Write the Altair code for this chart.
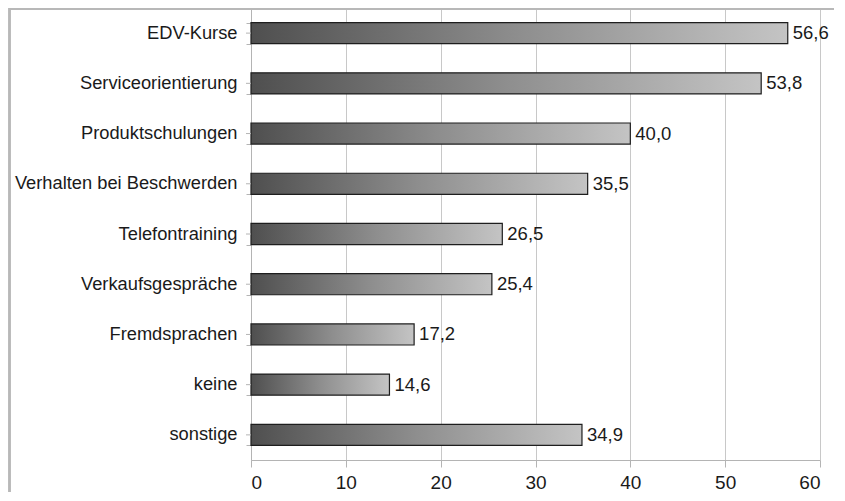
import altair as alt
import pandas as pd

categories = [
    "EDV-Kurse",
    "Serviceorientierung",
    "Produktschulungen",
    "Verhalten bei Beschwerden",
    "Telefontraining",
    "Verkaufsgespräche",
    "Fremdsprachen",
    "keine",
    "sonstige",
]
values = [56.6, 53.8, 40.0, 35.5, 26.5, 25.4, 17.2, 14.6, 34.9]
x_ticks = [0, 10, 20, 30, 40, 50, 60]

labels = [f"{v:.1f}".replace(".", ",") for v in values]
df = pd.DataFrame({"cat": categories, "val": values, "lab": labels})

W, H = 569, 452
FONT = "Liberation Sans"
AXIS_GRAY = "#b4b4b4"
TEXT = "#1a1a1a"

y_scale = alt.Scale(paddingInner=0.58, paddingOuter=0.29)

y_enc = alt.Y(
    "cat:N",
    sort=categories,
    title=None,
    scale=y_scale,
    axis=alt.Axis(
        tickBand="extent",
        domainColor=AXIS_GRAY,
        tickColor=AXIS_GRAY,
        tickSize=5,
        labelPadding=9,
        labelFontSize=18.3,
        labelFont=FONT,
        labelColor=TEXT,
        labelLimit=400,
        grid=False,
    ),
)
x_enc = alt.X(
    "val:Q",
    title=None,
    scale=alt.Scale(domain=[0, 60], nice=False),
    axis=alt.Axis(
        values=x_ticks,
        grid=True,
        gridColor="#c8c8c8",
        domainColor=AXIS_GRAY,
        tickColor=AXIS_GRAY,
        tickSize=7,
        labelPadding=6,
        labelFontSize=19,
        labelFont=FONT,
        labelColor=TEXT,
    ),
)

grad = alt.Gradient(
    gradient="linear",
    stops=[
        alt.GradientStop(color="#4f4f4f", offset=0),
        alt.GradientStop(color="#8e8e8e", offset=0.5),
        alt.GradientStop(color="#c4c4c4", offset=1),
    ],
    x1=0, x2=1, y1=0, y2=0,
)

bars = alt.Chart(df).mark_bar(color=grad, stroke="#1e1e1e", strokeWidth=1.2).encode(
    x=x_enc, y=y_enc
)
text = alt.Chart(df).mark_text(
    align="left", baseline="middle", dx=5, fontSize=18.5, font=FONT, color=TEXT
).encode(x="val:Q", y=alt.Y("cat:N", sort=categories), text="lab:N")

center_ticks = alt.Chart(df).mark_rule(color=AXIS_GRAY).encode(
    y=alt.Y("cat:N", sort=categories), x=alt.value(-5), x2=alt.value(0)
)

frame_left = alt.Chart(df).mark_rule(color="#b8b8b8", strokeWidth=1.5, clip=False).encode(
    x=alt.value(-241.5), y=alt.value(0), y2=alt.value(H + 32)
)
frame_top = alt.Chart(df).mark_rule(color="#b8b8b8", strokeWidth=1.5, clip=False).encode(
    y=alt.value(0.75), x=alt.value(-242), x2=alt.value(W + 14)
)

chart = (
    alt.layer(bars, text, center_ticks, frame_left, frame_top)
    .properties(
        width=W,
        height=H,
        padding={"left": 243, "top": 0, "right": 14, "bottom": 32},
        autosize=alt.AutoSizeParams(type="none"),
        background="white",
    )
    .configure_view(strokeWidth=0)
)

chart.save("out.html", embed_options={"renderer": "svg", "actions": False})
